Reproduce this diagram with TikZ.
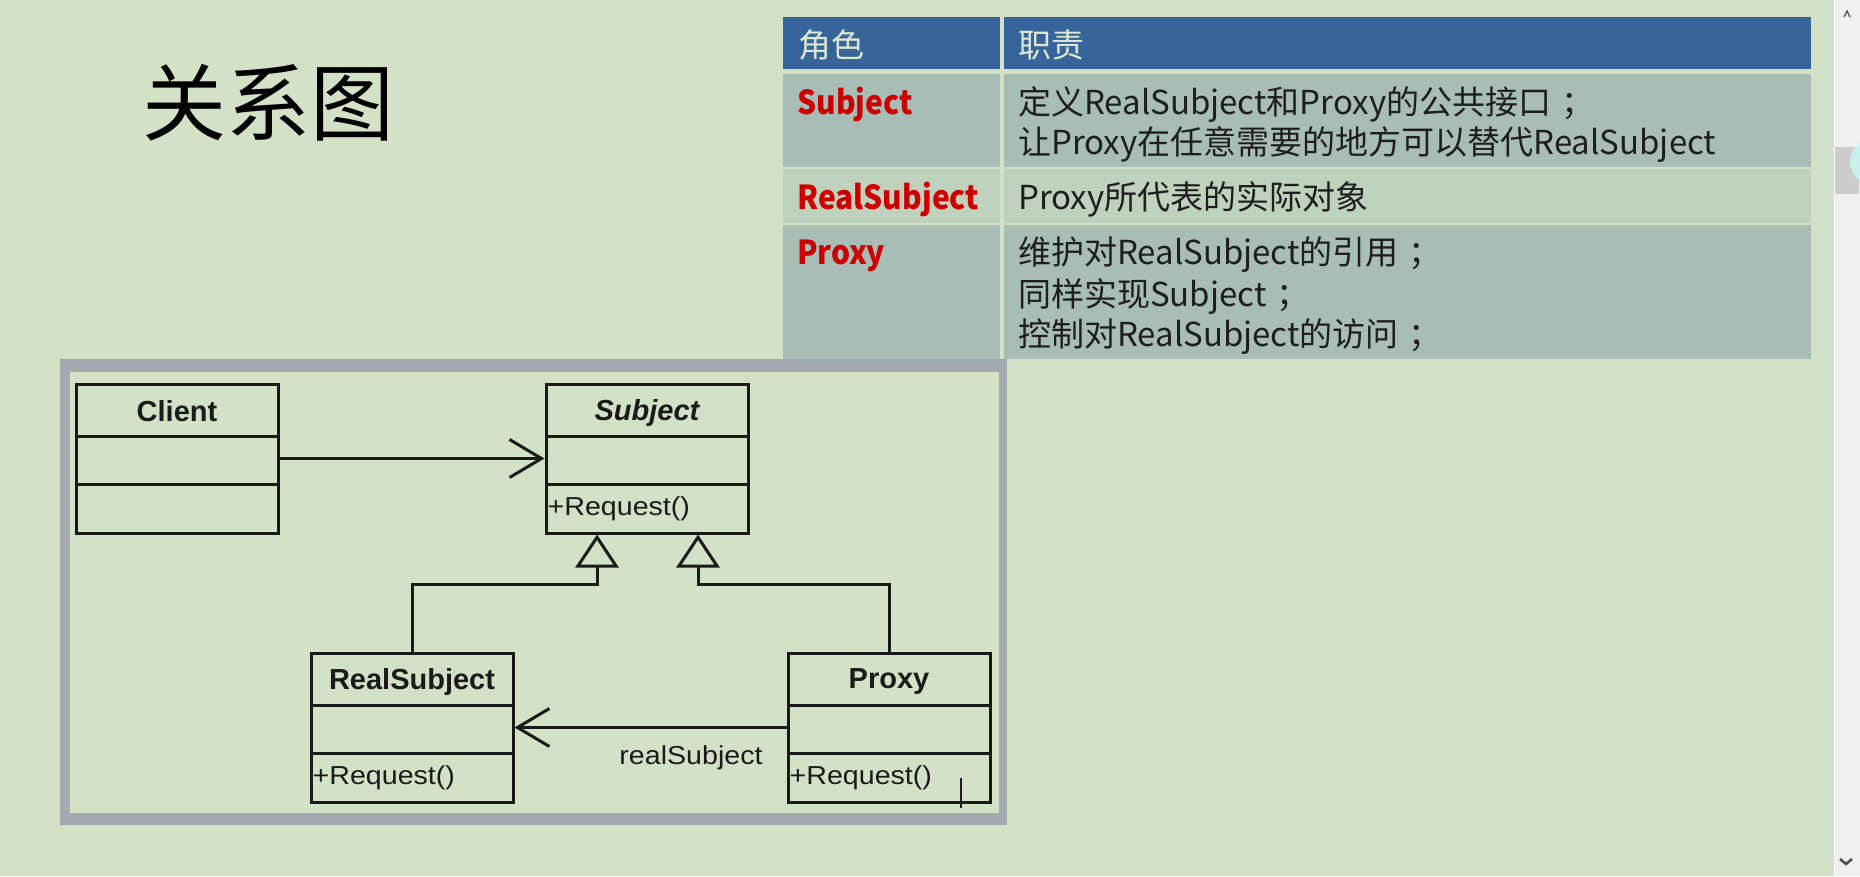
\documentclass[tikz,border=0pt]{standalone}
\usepackage{fontspec}
\setmainfont{Liberation Sans}
\newfontfamily\cjk{Noto Sans CJK SC}
\usetikzlibrary{arrows.meta,calc}
\definecolor{bg}{HTML}{D3E2C6}
\definecolor{framec}{HTML}{A3AAB1}
\definecolor{hdr}{HTML}{37649A}
\definecolor{hdrtext}{HTML}{DDE8D2}
\definecolor{rowdark}{HTML}{A8BDB5}
\definecolor{rowlight}{HTML}{BFD2BD}
\definecolor{redt}{HTML}{CC0000}
\definecolor{bodyt}{HTML}{1E1E1E}
\definecolor{linec}{HTML}{1A1A1A}
\definecolor{sbar}{HTML}{F0F0F0}
\definecolor{thumb}{HTML}{CDCDCD}
\definecolor{cyanc}{HTML}{C8F1EC}
\newcommand{\fsemi}{\kern0.3em；}
\begin{document}
\begin{tikzpicture}[x=1pt,y=-1pt,
  cls/.style={draw=linec, line width=3pt, minimum width=202pt, minimum height=149pt, inner sep=0pt},
  clsname/.style={font=\fontsize{29}{34}\selectfont\bfseries, text=linec},
  member/.style={font=\fontsize{26}{30}\selectfont, text=linec, anchor=west, xscale=1.1, inner sep=0pt},
  divider/.style={draw=linec, line width=3pt},
  assoc/.style={draw=linec, line width=3pt, -{Straight Barb[length=32pt,width=38pt]}},
  inherit/.style={draw=linec, line width=3pt, -{Triangle[open,length=33pt,width=43pt]}},
  celltext/.style={font=\cjk\fontsize{33}{40}\selectfont, text=bodyt, anchor=base west, inner sep=0pt},
  roletext/.style={font=\cjk\fontsize{33}{40}\selectfont\bfseries, text=redt, anchor=base west, inner sep=0pt, xscale=0.91},
  hdrtxt/.style={font=\cjk\fontsize{33}{40}\selectfont, text=hdrtext, anchor=base west, inner sep=0pt}
]
% background
\fill[bg] (0,0) rectangle (1860,876);
\useasboundingbox (0,0) rectangle (1860,876);

% title
\node[font=\cjk\fontsize{84}{94}\selectfont, text=black] (title) at (268,103) {关系图};

% table
\fill[hdr] (783,17) rectangle (1000,69);
\fill[hdr] (1004,17) rectangle (1811,69);
\fill[rowdark] (783,74) rectangle (1000,167);
\fill[rowdark] (1004,74) rectangle (1811,167);
\fill[rowlight] (783,169) rectangle (1000,223);
\fill[rowlight] (1004,169) rectangle (1811,223);
\fill[rowdark] (783,225) rectangle (1000,359);
\fill[rowdark] (1004,225) rectangle (1811,359);

\node[hdrtxt] (h1) at (798,57) {角色};
\node[hdrtxt] (h2) at (1018,57) {职责};
\node[roletext] (r1) at (797,114) {Subject};
\node[celltext] (d1a) at (1018,114) {定义RealSubject和Proxy的公共接口\fsemi};
\node[celltext] (d1b) at (1018,154) {让Proxy在任意需要的地方可以替代RealSubject};
\node[roletext] (r2) at (797,209) {RealSubject};
\node[celltext] (d2a) at (1018,209) {Proxy所代表的实际对象};
\node[roletext] (r3) at (797,264) {Proxy};
\node[celltext] (d3a) at (1018,264) {维护对RealSubject的引用\fsemi};
\node[celltext] (d3b) at (1018,306) {同样实现Subject\fsemi};
\node[celltext] (d3c) at (1018,346) {控制对RealSubject的访问\fsemi};

% diagram frame
\fill[framec] (60,359) rectangle (1007,825);
\fill[bg] (70,372) rectangle (999,813);

% class boxes
\node[cls] (client) at (177,458.5) {};
\node[cls] (subject) at (647,458.5) {};
\node[cls] (rs) at (412,727.5) {};
\node[cls] (proxy) at (889,727.5) {};

\foreach \b in {client,subject,rs,proxy}{
  \draw[divider] ($(\b.north west)+(1.5,54)$) -- ($(\b.north east)+(-1.5,54)$);
  \draw[divider] ($(\b.north west)+(1.5,102)$) -- ($(\b.north east)+(-1.5,102)$);
}

\node[clsname] (clientname) at ($(client.north)+(0,29)$) {Client};
\node[clsname, font=\fontsize{29}{34}\selectfont\bfseries\itshape] (subjectname) at ($(subject.north)+(0,30)$) {Subject};
\node[clsname] (rsname) at ($(rs.north)+(0,30)$) {RealSubject};
\node[clsname] (proxyname) at ($(proxy.north)+(0,30)$) {Proxy};

\node[member] (subjectop) at ($(subject.north west)+(3,126)$) {+Request()};
\node[member] (rsop) at ($(rs.north west)+(3,126)$) {+Request()};
\node[member] (proxyop) at ($(proxy.north west)+(3,126)$) {+Request()};

% connectors
\draw[assoc] (client.east) -- (subject.west);
\draw[assoc] (proxy.west) -- (rs.east);
\node[font=\fontsize{26}{30}\selectfont, text=linec, xscale=1.1] (reflabel) at (691,758) {realSubject};

\coordinate (tipL) at ($(subject.south)+(-50,0)$);
\coordinate (tipR) at ($(subject.south)+(51,0)$);
\draw[inherit] (rs.north) |- ($(tipL)+(0,50)$) -- (tipL);
\draw[inherit] (proxy.north) |- ($(tipR)+(0,50)$) -- (tipR);

% small cursor tick
\draw[linec, line width=2pt] (961,778) -- (961,808);

% scrollbar
\fill[sbar] (1835,0) rectangle (1860,876);
\draw[white, line width=1.5pt] (1834.5,0) -- (1834.5,876);
\fill[thumb] (1835,147) rectangle (1859,194);
\fill[cyanc] (1873,162) circle (23pt);
\draw[gray!60!black, line width=1.2pt] (1844,17) -- (1847,11) -- (1850,17);
\draw[gray!60!black, line width=2.5pt] (1840,859) -- (1846,864) -- (1852,859);
\end{tikzpicture}
\end{document}
